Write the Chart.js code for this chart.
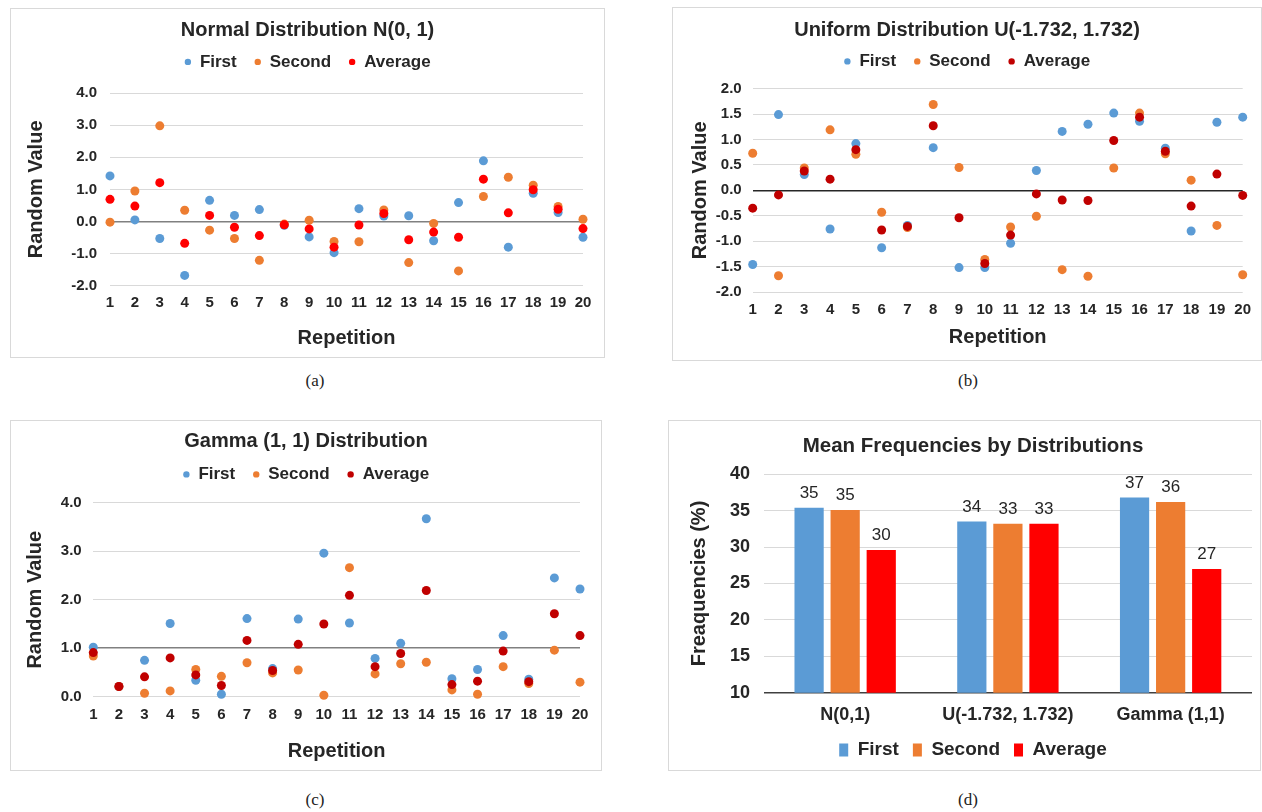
<!DOCTYPE html>
<html>
<head>
<meta charset="utf-8">
<script src="https://cdn.jsdelivr.net/npm/chart.js@4.4.1/dist/chart.umd.min.js"></script>
<style>
  body { margin: 0; background: #fff; width: 1262px; height: 812px; position: relative; overflow: hidden; }
  .panel { position: absolute; border: 1px solid #d9d9d9; box-sizing: border-box; }
  canvas { position: absolute; }
  .cap { position: absolute; font-family: 'Liberation Serif', 'Times New Roman', serif; font-size: 17px; color: #222; transform: translate(-50%, -50%); }
</style>
</head>
<body>
<div class="panel" style="left:10px;top:8px;width:595px;height:350px"></div>
<div class="panel" style="left:672px;top:7px;width:590px;height:354px"></div>
<div class="panel" style="left:10px;top:420px;width:592px;height:351px"></div>
<div class="panel" style="left:668px;top:420px;width:593px;height:351px"></div>
<canvas id="chartA" width="595" height="350" style="left:10px;top:8px"></canvas>
<canvas id="chartB" width="590" height="354" style="left:672px;top:7px"></canvas>
<canvas id="chartC" width="592" height="351" style="left:10px;top:420px"></canvas>
<canvas id="chartD" width="593" height="351" style="left:668px;top:420px"></canvas>
<div class="cap" style="left:315px;top:381px">(a)</div>
<div class="cap" style="left:968px;top:381px">(b)</div>
<div class="cap" style="left:315px;top:800px">(c)</div>
<div class="cap" style="left:968px;top:800px">(d)</div>
<script>
// data
const repetitions = [1, 2, 3, 4, 5, 6, 7, 8, 9, 10, 11, 12, 13, 14, 15, 16, 17, 18, 19, 20];

const normalFirst = [1.42, 0.05, -0.53, -1.68, 0.66, 0.19, 0.37, -0.12, -0.48, -0.97, 0.40, 0.17, 0.18, -0.60, 0.59, 1.89, -0.80, 0.88, 0.28, -0.49];
const normalSecond = [-0.02, 0.95, 2.98, 0.35, -0.27, -0.53, -1.21, -0.08, 0.04, -0.62, -0.63, 0.36, -1.28, -0.06, -1.54, 0.78, 1.38, 1.13, 0.47, 0.07];
const normalAverage = [0.69, 0.48, 1.21, -0.68, 0.19, -0.18, -0.44, -0.10, -0.23, -0.80, -0.11, 0.25, -0.57, -0.33, -0.49, 1.32, 0.27, 0.99, 0.38, -0.22];

const uniformFirst = [-1.46, 1.49, 0.31, -0.76, 0.92, -1.13, -0.69, 0.84, -1.52, -1.52, -1.04, 0.39, 1.16, 1.30, 1.52, 1.36, 0.83, -0.80, 1.34, 1.44];
const uniformSecond = [0.73, -1.68, 0.44, 1.19, 0.71, -0.43, -0.73, 1.69, 0.45, -1.36, -0.72, -0.51, -1.56, -1.69, 0.44, 1.52, 0.72, 0.20, -0.69, -1.66];
const uniformAverage = [-0.35, -0.09, 0.38, 0.22, 0.80, -0.78, -0.71, 1.27, -0.54, -1.44, -0.88, -0.07, -0.19, -0.20, 0.98, 1.44, 0.77, -0.31, 0.32, -0.10];

const gammaFirst = [1.02, 0.21, 0.75, 1.51, 0.34, 0.05, 1.61, 0.58, 1.60, 2.96, 1.52, 0.79, 1.10, 3.67, 0.37, 0.56, 1.26, 0.36, 2.45, 2.22];
const gammaSecond = [0.84, 0.21, 0.07, 0.12, 0.56, 0.42, 0.70, 0.49, 0.55, 0.03, 2.66, 0.47, 0.68, 0.71, 0.14, 0.05, 0.62, 0.27, 0.96, 0.30];
const gammaAverage = [0.91, 0.21, 0.41, 0.80, 0.45, 0.23, 1.16, 0.54, 1.08, 1.50, 2.09, 0.62, 0.89, 2.19, 0.25, 0.32, 0.94, 0.31, 1.71, 1.26];

const distributions = ['N(0,1)', 'U(-1.732, 1.732)', 'Gamma (1,1)'];
const freqFirst = [35.4, 33.5, 36.8];
const freqSecond = [35.1, 33.2, 36.2];
const freqAverage = [29.6, 33.2, 27.0];

const textColor = '#262626';
const gridColor = '#d9d9d9';
const fontFamily = "'Liberation Sans', Arial, sans-serif";
Chart.defaults.font.family = fontFamily;
Chart.defaults.color = textColor;

function points(ys) {
  return repetitions.map((x, i) => ({ x: x, y: ys[i] }));
}

function isAxisLine(value, at) {
  return Math.abs(value - at) < 1e-9;
}

function scatterChart(id, o) {
  return new Chart(document.getElementById(id), {
    type: 'scatter',
    data: {
      datasets: [
        { label: 'First', data: points(o.first), backgroundColor: '#5B9BD5', order: 3, clip: false },
        { label: 'Second', data: points(o.second), backgroundColor: '#ED7D31', order: 2, clip: false },
        { label: 'Average', data: points(o.average), backgroundColor: o.avgColor, order: 1, clip: false }
      ]
    },
    options: {
      responsive: false,
      animation: false,
      layout: { padding: { left: o.side, right: o.side, top: 0, bottom: 0 } },
      elements: { point: { radius: 4.5, hoverRadius: 4.5, borderWidth: 0 } },
      plugins: {
        title: {
          display: true, text: o.title, color: textColor,
          font: { size: 20, weight: 'bold' },
          padding: { top: o.titleTop, bottom: o.titleBottom }
        },
        legend: {
          position: 'top',
          labels: {
            usePointStyle: true, pointStyle: 'circle', boxWidth: 7, boxHeight: 4.5,
            padding: 17.5, color: textColor, font: { size: 17, weight: 'bold' },
            sort: (a, b) => a.datasetIndex - b.datasetIndex
          }
        },
        tooltip: { enabled: false }
      },
      scales: {
        x: {
          type: 'linear', min: 1, max: 20,
          ticks: { stepSize: 1, autoSkip: false, maxRotation: 0, padding: o.xTickPad, color: textColor, font: { size: 15, weight: 'bold' } },
          grid: { display: false, drawTicks: false },
          border: { display: false },
          title: { display: true, text: 'Repetition', color: textColor, font: { size: 20, weight: 'bold' }, padding: { top: 0, bottom: o.xTitleBottom } },
          afterFit: s => { s.height = o.xHeight; }
        },
        y: {
          min: o.yMin, max: o.yMax,
          ticks: { stepSize: o.yStep, padding: o.yTickPad, color: textColor, font: { size: 15, weight: 'bold' }, callback: v => v.toFixed(1) },
          grid: {
            drawTicks: false,
            color: c => isAxisLine(c.tick.value, o.axisAt) ? o.axisColor : gridColor,
            lineWidth: c => isAxisLine(c.tick.value, o.axisAt) ? 1.5 : 1
          },
          border: { display: false },
          title: { display: true, text: 'Random Value', color: textColor, font: { size: 20, weight: 'bold' }, padding: { top: o.yTitleTop, bottom: 0 } },
          afterFit: s => { s.width = o.yWidth; }
        },
        spacer: {
          type: 'linear', axis: 'x', position: 'top',
          grid: { display: false, drawTicks: false }, border: { display: false }, ticks: { display: false },
          afterFit: s => { s.height = o.spacer; }
        }
      }
    }
  });
}

scatterChart('chartA', {
  title: 'Normal Distribution N(0, 1)',
  first: normalFirst, second: normalSecond, average: normalAverage, avgColor: '#FF0000',
  yMin: -2, yMax: 4, yStep: 1, axisAt: 0, axisColor: '#808080',
  side: 22, yWidth: 78, yTitleTop: -8, yTickPad: 13,
  xHeight: 72.3, xTitleBottom: 8, xTickPad: 8.3,
  titleTop: 10, titleBottom: -6.1, spacer: 12.7
});

scatterChart('chartB', {
  title: 'Uniform Distribution U(-1.732, 1.732)',
  first: uniformFirst, second: uniformSecond, average: uniformAverage, avgColor: '#C00000',
  yMin: -2, yMax: 2, yStep: 0.5, axisAt: 0, axisColor: '#262626',
  side: 19.3, yWidth: 61.4, yTitleTop: -3.3, yTickPad: 11,
  xHeight: 69, xTitleBottom: 12, xTickPad: 9,
  titleTop: 11, titleBottom: -6.6, spacer: 8.8
});

scatterChart('chartC', {
  title: 'Gamma (1, 1) Distribution',
  first: gammaFirst, second: gammaSecond, average: gammaAverage, avgColor: '#C00000',
  yMin: 0, yMax: 4, yStep: 1, axisAt: 1, axisColor: '#808080',
  side: 22, yWidth: 61.3, yTitleTop: -9, yTickPad: 11.6,
  xHeight: 74.3, xTitleBottom: 8, xTickPad: 9.3,
  titleTop: 9, titleBottom: -4.6, spacer: 9.8
});

// value labels above the bars
const barValueLabels = {
  id: 'barValueLabels',
  afterDatasetsDraw(chart) {
    const ctx = chart.ctx;
    ctx.save();
    ctx.font = '17px ' + fontFamily;
    ctx.fillStyle = textColor;
    ctx.textAlign = 'center';
    ctx.textBaseline = 'bottom';
    chart.data.datasets.forEach((ds, i) => {
      chart.getDatasetMeta(i).data.forEach((bar, j) => {
        ctx.fillText(Math.round(ds.data[j]), bar.x, bar.y - 6);
      });
    });
    ctx.restore();
  }
};

new Chart(document.getElementById('chartD'), {
  type: 'bar',
  data: {
    labels: distributions,
    datasets: [
      { label: 'First', data: freqFirst, backgroundColor: '#5B9BD5' },
      { label: 'Second', data: freqSecond, backgroundColor: '#ED7D31' },
      { label: 'Average', data: freqAverage, backgroundColor: '#FF0000' }
    ]
  },
  plugins: [barValueLabels],
  options: {
    responsive: false,
    animation: false,
    layout: { padding: { left: 26, right: 9, top: 0, bottom: 1.5 } },
    datasets: { bar: { categoryPercentage: 0.665, barPercentage: 0.81, borderWidth: 0 } },
    plugins: {
      title: {
        display: true, text: 'Mean Frequencies by Distributions', color: textColor,
        font: { size: 20.5, weight: 'bold' }, padding: { top: 14.4, bottom: 15.3 }
      },
      legend: {
        position: 'bottom',
        labels: { boxWidth: 9, boxHeight: 13, padding: 14, color: textColor, font: { size: 19, weight: 'bold' } }
      },
      tooltip: { enabled: false }
    },
    scales: {
      x: {
        ticks: { padding: 11.5, color: textColor, font: { size: 18, weight: 'bold' } },
        grid: { display: false, drawTicks: false },
        border: { display: false },
        afterFit: s => { s.height = 33.8; }
      },
      y: {
        min: 10, max: 40,
        ticks: { stepSize: 5, padding: 13.8, color: textColor, font: { size: 18, weight: 'bold' } },
        grid: {
          drawTicks: false,
          color: c => c.tick.value === 10 ? '#404040' : gridColor,
          lineWidth: c => c.tick.value === 10 ? 1.5 : 1
        },
        border: { display: false },
        title: { display: true, text: 'Freaquencies (%)', color: textColor, font: { size: 20, weight: 'bold' }, padding: { top: -7, bottom: 0 } },
        afterFit: s => { s.width = 69.8; }
      }
    }
  }
});
</script>
</body>
</html>
